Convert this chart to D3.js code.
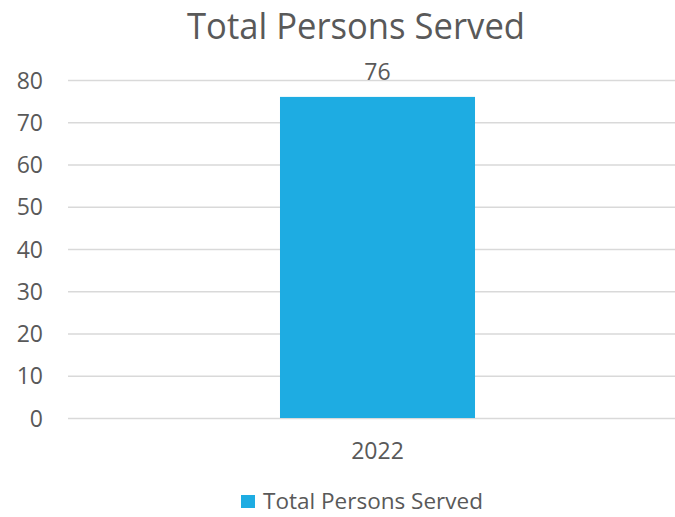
<!DOCTYPE html>
<html>
<head>
<meta charset="utf-8">
<script src="https://cdn.jsdelivr.net/npm/d3@7"></script>
<style>
  html, body { margin: 0; padding: 0; background: #fff; }
  svg { display: block; }
  text { font-family: "Open Sans", sans-serif; fill: #595959; }
</style>
</head>
<body>
<svg id="chart" width="675" height="517"></svg>
<script>
// Chart data
const categories = ["2022"];
const values = [76];
const seriesName = "Total Persons Served";
const chartTitle = "Total Persons Served";
const yTicks = [0, 10, 20, 30, 40, 50, 60, 70, 80];

const W = 675, H = 517;
const plot = { left: 68, right: 687, top: 80, bottom: 418 };
const barColor = "#1EACE2";
const gridColor = "#d9d9d9";

const svg = d3.select("#chart");

const y = d3.scaleLinear().domain([0, 80]).range([plot.bottom, plot.top]);
const x = d3.scaleBand().domain(categories)
  .range([plot.left, plot.right])
  .paddingInner(0)
  .paddingOuter(1.087);

// Gridlines
const yAxis = d3.axisLeft(y).tickValues(yTicks).tickSize(-(W - plot.left)).tickPadding(25).tickFormat(d3.format("d"));
const gy = svg.append("g").attr("transform", `translate(${plot.left},0)`).call(yAxis);
gy.select(".domain").remove();
gy.selectAll(".tick line").attr("stroke", gridColor).attr("stroke-width", 1.5);
gy.selectAll(".tick text")
  .attr("x", 43 - plot.left)
  .attr("dy", "0.35em")
  .style("font-size", "23px")
  .style("fill", "#595959");

// Bars
svg.append("g").selectAll("rect")
  .data(values)
  .join("rect")
  .attr("x", (d, i) => x(categories[i]))
  .attr("width", x.bandwidth())
  .attr("y", d => y(d))
  .attr("height", d => y(0) - y(d))
  .attr("fill", barColor);

// Value labels
svg.append("g").selectAll("text")
  .data(values)
  .join("text")
  .attr("x", (d, i) => x(categories[i]) + x.bandwidth() / 2)
  .attr("y", d => y(d) - 17)
  .attr("text-anchor", "middle")
  .style("font-size", "23px")
  .text(d => d);

// Category axis labels
const xAxis = d3.axisBottom(x).tickSize(0).tickPadding(0);
const gx = svg.append("g").attr("transform", `translate(0,${plot.bottom})`).call(xAxis);
gx.select(".domain").remove();
gx.selectAll(".tick text")
  .attr("y", 41)
  .attr("dy", 0)
  .style("font-size", "23px")
  .style("fill", "#595959");

// Title
svg.append("text")
  .attr("x", 356)
  .attr("y", 38.5)
  .attr("text-anchor", "middle")
  .attr("textLength", 338)
  .attr("lengthAdjust", "spacingAndGlyphs")
  .style("font-size", "36px")
  .text(chartTitle);

// Legend
const legend = svg.append("g");
legend.append("rect")
  .attr("x", 241).attr("y", 495)
  .attr("width", 14).attr("height", 13)
  .attr("fill", barColor);
legend.append("text")
  .attr("x", 263).attr("y", 508.5)
  .attr("textLength", 220)
  .attr("lengthAdjust", "spacingAndGlyphs")
  .style("font-size", "21px")
  .text(seriesName);
</script>
</body>
</html>
